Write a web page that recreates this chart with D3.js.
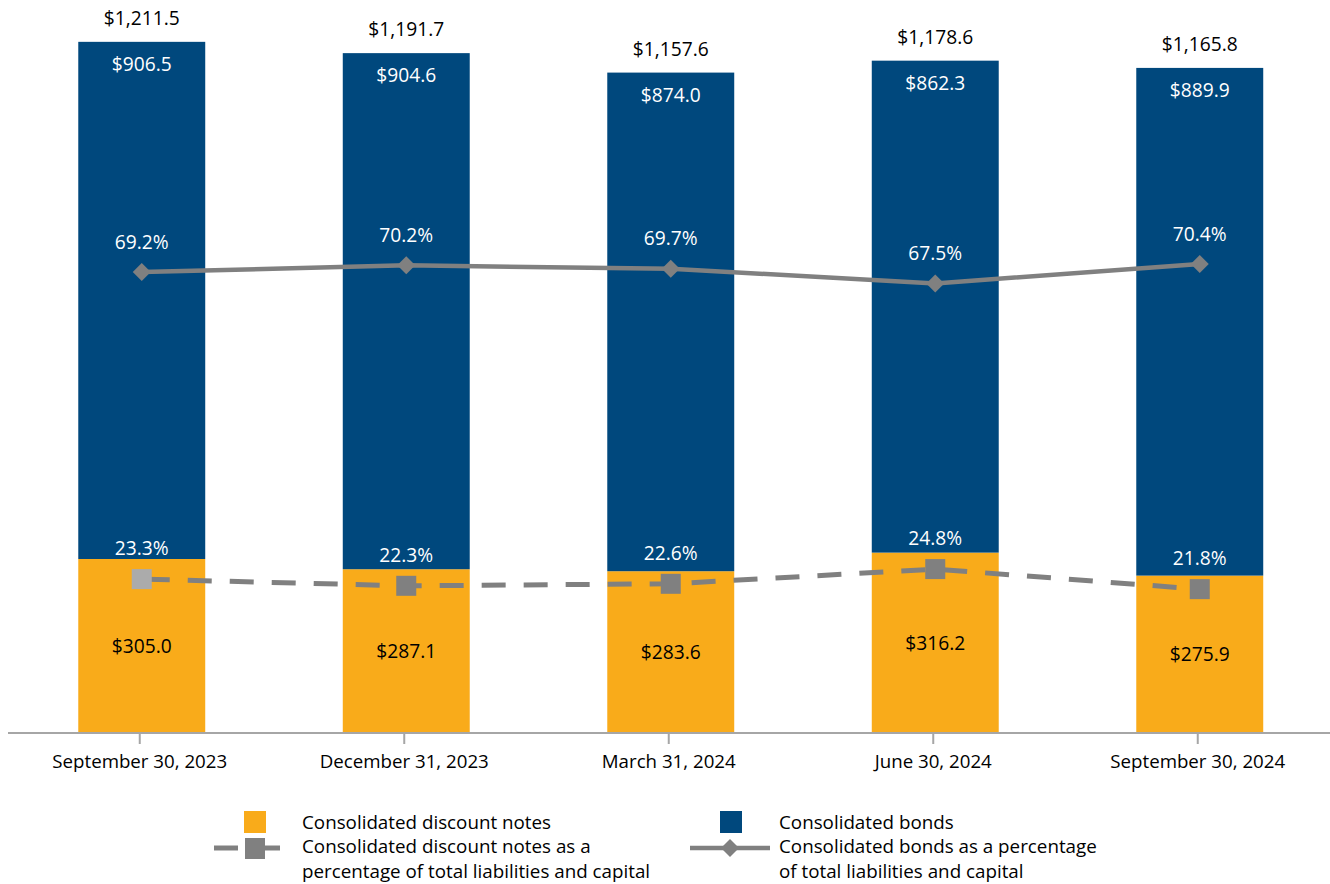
<!DOCTYPE html>
<html>
<head>
<meta charset="utf-8">
<script src="https://cdn.jsdelivr.net/npm/d3@7"></script>
<style>
  html, body { margin: 0; padding: 0; background: #fff; }
  svg { display: block; font-family: "Open Sans", "Liberation Sans", sans-serif; }
</style>
</head>
<body>
<svg id="chart" width="1330" height="884"></svg>
<script>
// Quarter-end dates
const categories = ["September 30, 2023", "December 31, 2023", "March 31, 2024", "June 30, 2024", "September 30, 2024"];
// Consolidated obligations outstanding ($ billions)
const discountNotes = [305.0, 287.1, 283.6, 316.2, 275.9];
const bonds = [906.5, 904.6, 874.0, 862.3, 889.9];
const totals = [1211.5, 1191.7, 1157.6, 1178.6, 1165.8];
// Share of total liabilities and capital (%)
const discountPct = [23.3, 22.3, 22.6, 24.8, 21.8];
const bondsPct = [69.2, 70.2, 69.7, 67.5, 70.4];

const ORANGE = "#F9AB1A", BLUE = "#00487D", GRAY = "#808080", LIGHTGRAY = "#ABABAB";

const svg = d3.select("#chart");
const baseY = 733;

const x = d3.scaleBand().domain(categories).range([9.5, 1332]).paddingInner(0.52).paddingOuter(0.26);
const y = d3.scaleLinear().domain([0, 1200]).range([baseY, baseY - 1200 * 0.5705]);
const yPct = d3.scaleLinear().domain([0, 100]).range([735, 66]);

const fmt$ = v => "$" + d3.format(",.1f")(v);
const fmtPct = v => v.toFixed(1) + "%";

const rows = categories.map((c, i) => ({
  c, dn: discountNotes[i], bd: bonds[i], tot: totals[i], dp: discountPct[i], bp: bondsPct[i]
}));

// Stacked bars: discount notes at the bottom, bonds on top
const g = svg.append("g");
g.selectAll("rect.dn").data(rows).join("rect")
  .attr("x", d => x(d.c)).attr("width", x.bandwidth())
  .attr("y", d => y(d.dn)).attr("height", d => y(0) - y(d.dn))
  .attr("fill", ORANGE);
g.selectAll("rect.bd").data(rows).join("rect")
  .attr("x", d => x(d.c)).attr("width", x.bandwidth())
  .attr("y", d => y(d.dn + d.bd)).attr("height", d => y(d.dn) - y(d.dn + d.bd))
  .attr("fill", BLUE);

// Category axis
const axisG = svg.append("g").attr("transform", `translate(0,${baseY})`);
axisG.append("line").attr("x1", 8).attr("x2", 1330).attr("y1", 0).attr("y2", 0)
  .attr("stroke", "#A6A6A6").attr("stroke-width", 2);
axisG.selectAll("line.tick").data(categories).join("line")
  .attr("x1", d => x(d) + x.bandwidth() / 2 - 2).attr("x2", d => x(d) + x.bandwidth() / 2 - 2)
  .attr("y1", 0).attr("y2", 11).attr("stroke", "#A6A6A6").attr("stroke-width", 2);
axisG.selectAll("text").data(categories).join("text")
  .attr("x", d => x(d) + x.bandwidth() / 2 - 2).attr("y", 35)
  .attr("text-anchor", "middle").attr("font-size", 18.7).attr("fill", "#000")
  .text(d => d);

const cx = d => x(d.c) + x.bandwidth() / 2;

// Bonds percentage line (solid, diamond markers)
svg.append("path").datum(rows)
  .attr("d", d3.line().x(cx).y(d => yPct(d.bp)))
  .attr("fill", "none").attr("stroke", GRAY).attr("stroke-width", 4.5);
svg.selectAll("path.diamond").data(rows).join("path")
  .attr("transform", d => `translate(${cx(d)},${yPct(d.bp)})`)
  .attr("d", "M0,-9L9,0L0,9L-9,0Z").attr("fill", GRAY);

// Discount notes percentage line (dashed, square markers)
svg.append("path").datum(rows)
  .attr("d", d3.line().x(cx).y(d => yPct(d.dp)))
  .attr("fill", "none").attr("stroke", GRAY).attr("stroke-width", 5)
  .attr("stroke-dasharray", "24,18").attr("stroke-dashoffset", -4);
svg.selectAll("rect.sq").data(rows).join("rect")
  .attr("x", d => cx(d) - 10).attr("y", d => yPct(d.dp) - 10)
  .attr("width", 20).attr("height", 20)
  .attr("fill", (d, i) => i === 0 ? LIGHTGRAY : GRAY);

// Value labels
const FS = 19.2;
svg.selectAll("text.tot").data(rows).join("text")
  .attr("x", cx).attr("y", d => y(d.tot) - 17)
  .attr("text-anchor", "middle").attr("font-size", FS).attr("fill", "#000")
  .text(d => fmt$(d.tot));
svg.selectAll("text.bd").data(rows).join("text")
  .attr("x", cx).attr("y", d => y(d.tot) + 29)
  .attr("text-anchor", "middle").attr("font-size", FS).attr("fill", "#fff")
  .text(d => fmt$(d.bd));
svg.selectAll("text.dn").data(rows).join("text")
  .attr("x", cx).attr("y", d => (y(d.dn) + y(0)) / 2 + 7)
  .attr("text-anchor", "middle").attr("font-size", FS).attr("fill", "#000")
  .text(d => fmt$(d.dn));
svg.selectAll("text.bp").data(rows).join("text")
  .attr("x", cx).attr("y", d => yPct(d.bp) - 23.5)
  .attr("text-anchor", "middle").attr("font-size", FS).attr("fill", "#fff")
  .text(d => fmtPct(d.bp));
svg.selectAll("text.dp").data(rows).join("text")
  .attr("x", cx).attr("y", d => yPct(d.dp) - 24)
  .attr("text-anchor", "middle").attr("font-size", FS).attr("fill", "#fff")
  .text(d => fmtPct(d.dp));

// Legend
const leg = svg.append("g").attr("font-size", 18.8).attr("fill", "#000");
leg.append("rect").attr("x", 244).attr("y", 811).attr("width", 22).attr("height", 22).attr("fill", ORANGE);
leg.append("text").attr("x", 302).attr("y", 829).text("Consolidated discount notes");
leg.append("line").attr("x1", 214).attr("x2", 238).attr("y1", 848).attr("y2", 848).attr("stroke", GRAY).attr("stroke-width", 5);
leg.append("line").attr("x1", 265).attr("x2", 280).attr("y1", 848).attr("y2", 848).attr("stroke", GRAY).attr("stroke-width", 5);
leg.append("rect").attr("x", 245).attr("y", 838).attr("width", 20).attr("height", 21).attr("fill", GRAY);
leg.append("text").attr("x", 302).attr("y", 853).text("Consolidated discount notes as a");
leg.append("text").attr("x", 302).attr("y", 878).text("percentage of total liabilities and capital");

leg.append("rect").attr("x", 720).attr("y", 811).attr("width", 22).attr("height", 22).attr("fill", BLUE);
leg.append("text").attr("x", 779).attr("y", 829).text("Consolidated bonds");
leg.append("line").attr("x1", 690).attr("x2", 770).attr("y1", 848).attr("y2", 848).attr("stroke", GRAY).attr("stroke-width", 4.5);
leg.append("path").attr("transform", "translate(730,848)").attr("d", "M0,-9L9,0L0,9L-9,0Z").attr("fill", GRAY);
leg.append("text").attr("x", 779).attr("y", 853).text("Consolidated bonds as a percentage");
leg.append("text").attr("x", 779).attr("y", 878).text("of total liabilities and capital");
</script>
</body>
</html>
